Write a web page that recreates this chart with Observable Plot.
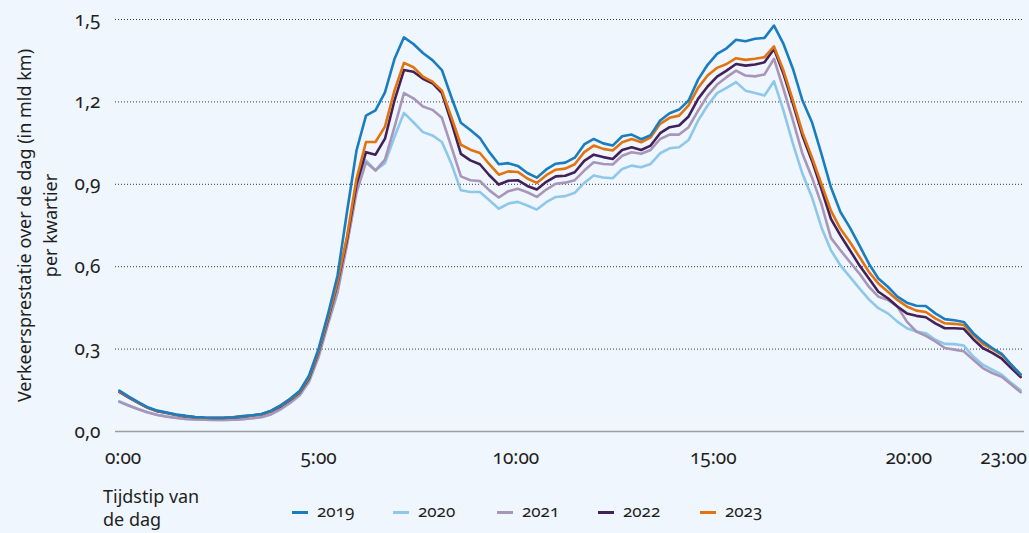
<!DOCTYPE html>
<html><head><meta charset="utf-8">
<script src="https://cdn.jsdelivr.net/npm/d3@7"></script>
<script src="https://cdn.jsdelivr.net/npm/@observablehq/plot@0.6"></script>
<style>
html,body{margin:0;padding:0;background:#eff6fd;}
body{font-family:"Noto Sans",sans-serif;color:#1f1f1f;}
#wrap{position:relative;width:1029px;height:533px;overflow:hidden;background:#eff6fd;}
#wrap svg{position:absolute;left:0;top:0;}
.lg{position:absolute;font-size:17px;line-height:18px;white-space:nowrap;font-variant-numeric:oldstyle-nums;}
.xt{position:absolute;font-size:18px;line-height:23px;white-space:nowrap;}
.sw{position:absolute;width:16px;height:3px;}
</style></head><body><div id="wrap"></div>
<script>
const years = ["2019","2020","2021","2022","2023"];
const colors = ["#1a7dc0","#8ec7ea","#a895b8","#42215b","#e3730e"];

const v2019 = [0.149,0.127,0.107,0.088,0.076,0.069,0.062,0.057,0.053,0.051,0.050,0.050,0.052,0.056,0.059,0.064,0.076,0.095,0.119,0.147,0.204,0.301,0.428,0.568,0.800,
1.023,1.150,1.169,1.235,1.356,1.435,1.411,1.378,1.352,1.316,1.217,1.124,1.098,1.069,1.017,0.973,0.977,0.967,0.941,0.924,0.954,0.975,0.979,0.997,1.045,
1.065,1.049,1.041,1.075,1.081,1.064,1.079,1.132,1.159,1.172,1.205,1.281,1.335,1.375,1.395,1.426,1.421,1.430,1.433,1.478,
1.411,1.320,1.205,1.126,1.011,0.889,0.799,0.742,0.678,0.611,0.557,0.527,0.491,0.469,0.458,0.457,0.430,0.409,0.405,0.399,0.358,0.328,0.304,0.283,0.243,0.207];
const v2020 = [0.110,0.096,0.082,0.070,0.061,0.055,0.050,0.046,0.044,0.043,0.042,0.042,0.043,0.045,0.048,0.052,0.062,0.080,0.103,0.130,0.180,0.270,0.390,0.505,0.690,
0.880,0.987,0.951,0.977,1.072,1.160,1.126,1.090,1.078,1.054,0.975,0.878,0.872,0.872,0.842,0.811,0.830,0.836,0.823,0.808,0.835,0.854,0.857,0.869,0.905,
0.932,0.925,0.922,0.956,0.968,0.962,0.974,1.013,1.031,1.035,1.061,1.132,1.187,1.232,1.251,1.272,1.241,1.232,1.223,1.275,
1.168,1.047,0.938,0.853,0.743,0.660,0.605,0.563,0.521,0.481,0.449,0.430,0.400,0.376,0.364,0.358,0.334,0.319,0.318,0.313,0.273,0.243,0.225,0.207,0.177,0.150];
const v2021 = [0.108,0.094,0.081,0.069,0.060,0.054,0.049,0.046,0.044,0.043,0.042,0.042,0.043,0.045,0.048,0.053,0.063,0.082,0.106,0.134,0.185,0.275,0.395,0.510,0.680,
0.870,0.980,0.950,0.990,1.108,1.232,1.213,1.183,1.171,1.142,1.036,0.929,0.915,0.912,0.878,0.852,0.875,0.884,0.871,0.854,0.881,0.902,0.906,0.915,0.950,
0.980,0.974,0.972,1.004,1.017,1.011,1.025,1.065,1.081,1.081,1.108,1.168,1.223,1.263,1.290,1.314,1.296,1.293,1.300,1.357,
1.247,1.132,1.011,0.925,0.828,0.705,0.660,0.617,0.575,0.527,0.491,0.479,0.455,0.400,0.364,0.348,0.328,0.304,0.298,0.292,0.261,0.231,0.213,0.199,0.171,0.143];
const v2022 = [0.144,0.123,0.104,0.086,0.074,0.067,0.060,0.055,0.052,0.050,0.049,0.049,0.051,0.054,0.058,0.063,0.074,0.092,0.115,0.142,0.195,0.290,0.410,0.540,0.700,
0.900,1.017,1.008,1.066,1.205,1.316,1.310,1.284,1.268,1.232,1.126,1.011,0.987,0.973,0.933,0.899,0.913,0.915,0.894,0.881,0.909,0.929,0.931,0.944,0.985,
1.008,0.999,0.992,1.025,1.035,1.025,1.041,1.086,1.108,1.114,1.147,1.211,1.256,1.292,1.314,1.338,1.332,1.336,1.344,1.393,
1.302,1.193,1.077,0.986,0.883,0.774,0.714,0.660,0.605,0.557,0.509,0.485,0.455,0.430,0.421,0.416,0.394,0.376,0.376,0.374,0.336,0.304,0.286,0.265,0.231,0.198];
const v2023 = [0.146,0.125,0.105,0.087,0.075,0.068,0.061,0.056,0.052,0.050,0.049,0.050,0.052,0.055,0.058,0.063,0.075,0.094,0.117,0.144,0.198,0.293,0.415,0.545,0.710,
0.920,1.054,1.054,1.110,1.241,1.342,1.326,1.292,1.274,1.241,1.144,1.044,1.026,1.014,0.973,0.935,0.947,0.945,0.921,0.905,0.933,0.953,0.957,0.973,1.017,
1.041,1.029,1.023,1.053,1.065,1.053,1.071,1.120,1.142,1.150,1.187,1.251,1.296,1.324,1.338,1.359,1.353,1.357,1.363,1.402,
1.314,1.205,1.089,0.998,0.901,0.804,0.738,0.690,0.636,0.581,0.539,0.509,0.479,0.455,0.440,0.435,0.412,0.394,0.392,0.388,0.352,0.319,0.300,0.279,0.243,0.207];

const tickHours = [0.1, 5.25, 10.45, 15.65, 20.8, 23.3];
const tickLabels = ["0:00","5:00","10:00","15:00","20:00","23:00"];
const yTicks = [0, 0.3, 0.6, 0.9, 1.2, 1.5];
const yTitle = ["Verkeersprestatie over de dag (in mld km)", "per kwartier"];
const xTitle = ["Tijdstip van", "de dag"];

const series = {"2019": v2019, "2020": v2020, "2021": v2021, "2022": v2022, "2023": v2023};
const drawOrder = ["2020","2021","2022","2023","2019"];
const rows = drawOrder.flatMap(y => series[y].map((v, i) => ({year: y, hour: i / 4, value: v})));

const plot = Plot.plot({
  width: 1029, height: 475,
  marginLeft: 115, marginRight: 5, marginTop: 19, marginBottom: 44,
  style: {background: "transparent", fontFamily: "'Noto Sans', sans-serif", fontSize: "18px", color: "#1f1f1f"},
  x: {domain: [-0.1, 23.85]},
  y: {domain: [0, 1.5]},
  color: {type: "ordinal", domain: years, range: colors},
  marks: [
    Plot.ruleY(yTicks.filter(d => d > 0), {stroke: "#3a3a3a", strokeWidth: 1, strokeDasharray: "1,2"}),
    Plot.ruleY([0], {stroke: "#9d9d9d", strokeWidth: 1.5}),
    Plot.axisY({ticks: yTicks, tickSize: 0, tickPadding: 15, label: null, fontSize: 19, fontVariant: "oldstyle-nums",
      tickFormat: d => d.toFixed(1).replace(".", ",")}),
    Plot.axisX({ticks: tickHours, tickSize: 0, tickPadding: 19, label: null, fontSize: 19, fontVariant: "oldstyle-nums",
      tickFormat: d => tickLabels[tickHours.indexOf(d)]}),
    Plot.lineY(rows, {x: "hour", y: "value", z: "year", stroke: "year", strokeWidth: 2.6}),
    Plot.text([yTitle.join("\n")], {frameAnchor: "left", textAnchor: "middle", lineAnchor: "middle", rotate: -90, dx: -80, lineHeight: 1.45, fontSize: 18, fill: "#1f1f1f"})
  ]
});

const wrap = document.getElementById("wrap");
wrap.appendChild(plot);

const xt = document.createElement("div");
xt.className = "xt";
xt.style.left = "103px"; xt.style.top = "485px";
xt.innerHTML = xTitle.join("<br>");
wrap.appendChild(xt);

const swX = [292, 393, 497, 598, 700];
years.forEach((y, k) => {
  const sw = document.createElement("div");
  sw.className = "sw";
  sw.style.left = swX[k] + "px"; sw.style.top = "511px"; sw.style.background = colors[k];
  wrap.appendChild(sw);
  const t = document.createElement("div");
  t.className = "lg";
  t.style.left = (swX[k] + 25) + "px"; t.style.top = "502px";
  t.textContent = y;
  wrap.appendChild(t);
});
</script></body></html>
